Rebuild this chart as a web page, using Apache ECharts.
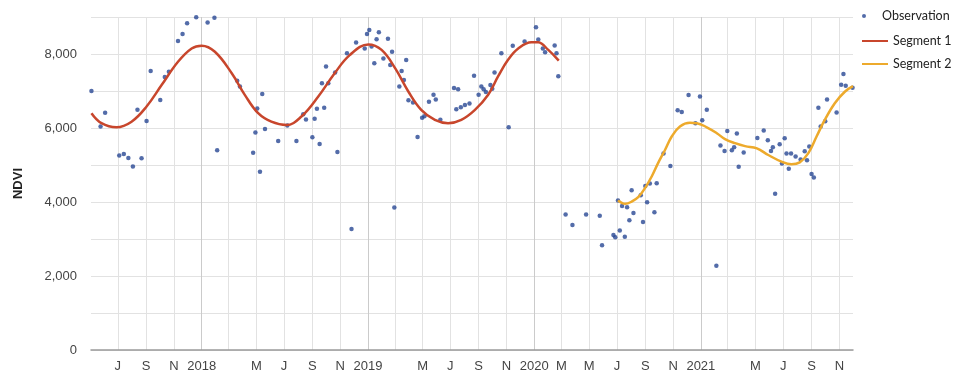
<!DOCTYPE html>
<html>
<head>
<meta charset="utf-8">
<script src="https://cdn.jsdelivr.net/npm/echarts@6/dist/echarts.min.js"></script>
<style>
  html, body { margin: 0; padding: 0; background: #fff; }
  #chart { width: 960px; height: 376px; }
</style>
</head>
<body>
<div id="chart"></div>
<script>
// NDVI observations
const obsDates = [
  '2017-05-04','2017-05-24','2017-06-03','2017-07-04','2017-07-14','2017-07-24','2017-08-03','2017-08-13','2017-08-22','2017-09-02',
  '2017-09-11','2017-10-02','2017-10-12','2017-10-21','2017-11-10','2017-11-20','2017-11-30','2017-12-20','2018-01-14','2018-01-29',
  '2018-02-04','2018-03-20','2018-03-26','2018-04-24','2018-04-29','2018-05-03','2018-05-09','2018-05-14','2018-05-20','2018-06-18',
  '2018-07-08','2018-07-28','2018-08-12','2018-08-18','2018-09-01','2018-09-06','2018-09-11','2018-09-17','2018-09-22','2018-09-27',
  '2018-10-01','2018-10-06','2018-10-21','2018-10-26','2018-11-16','2018-11-26','2018-12-06','2018-12-25','2018-12-30','2019-01-04',
  '2019-01-09','2019-01-15','2019-01-20','2019-01-25','2019-02-04','2019-02-14','2019-02-19','2019-02-23','2019-02-28','2019-03-11',
  '2019-03-16','2019-03-21','2019-03-26','2019-03-31','2019-04-10','2019-04-20','2019-04-30','2019-05-05','2019-05-15','2019-05-25',
  '2019-05-30','2019-06-09','2019-07-09','2019-07-14','2019-07-18','2019-07-24','2019-08-02','2019-08-12','2019-08-22','2019-09-01',
  '2019-09-07','2019-09-12','2019-09-17','2019-09-27','2019-10-01','2019-10-06','2019-10-21','2019-11-06','2019-11-15','2019-12-11',
  '2020-01-05','2020-01-10','2020-01-20','2020-01-25','2020-02-15','2020-02-19','2020-02-23','2020-03-10','2020-03-25','2020-04-24',
  '2020-05-24','2020-05-29','2020-06-23','2020-06-27','2020-07-03','2020-07-07','2020-07-12','2020-07-18','2020-07-23','2020-07-28',
  '2020-08-02','2020-08-06','2020-08-22','2020-08-27','2020-09-01','2020-09-05','2020-09-11','2020-09-21','2020-09-26','2020-10-11',
  '2020-10-26','2020-11-11','2020-11-20','2020-12-05','2020-12-20','2020-12-30','2021-01-04','2021-01-14','2021-02-04','2021-02-13',
  '2021-02-22','2021-02-28','2021-03-10','2021-03-15','2021-03-21','2021-03-25','2021-04-05','2021-05-05','2021-05-19','2021-05-28',
  '2021-06-04','2021-06-08','2021-06-13','2021-06-23','2021-06-28','2021-07-04','2021-07-08','2021-07-13','2021-07-18','2021-07-28',
  '2021-08-08','2021-08-17','2021-08-22','2021-08-27','2021-09-01','2021-09-06','2021-09-16','2021-09-21','2021-10-01','2021-10-05',
  '2021-10-26','2021-11-05','2021-11-10','2021-11-15','2021-11-30'
];
const obsValues = [
  7000,6040,6410,5260,5300,5190,4960,6490,5180,6190,
  7540,6760,7380,7520,8350,8540,8830,8990,8850,8980,
  5400,7280,7120,5330,5880,6530,4820,6920,5970,5650,
  6070,5650,6370,6230,5750,6250,6520,5570,7210,6550,
  7660,7210,7500,5350,8020,3270,8310,8150,8540,8650,
  8200,7750,8400,8590,7880,8410,7700,8060,3850,7120,
  7540,7300,7840,6750,6690,5760,6280,6320,6710,6900,
  6770,6220,7080,6510,7050,6560,6620,6660,7410,6900,
  7120,7050,6970,7160,7060,7500,8020,6020,8220,8340,
  8720,8390,8150,8050,8230,8020,7400,3660,3380,3660,
  3630,2830,3110,3050,4040,3230,3890,3060,3860,3510,
  4320,3700,4180,3460,4430,3990,4500,3720,4510,5310,
  4970,6480,6430,6890,6130,6850,6210,6490,2280,5530,
  5380,5920,5400,5480,5850,4950,5340,5730,5930,5670,
  5380,5480,4220,5560,5040,5720,5310,4900,5310,5230,
  5150,5370,5130,5500,4760,4660,6550,6040,6180,6770,
  6420,7170,7460,7140,7090
];

// Fitted curve, first segment
const seg1Dates = [
  '2017-05-04','2017-05-26','2017-06-28','2017-07-31','2017-09-02','2017-10-05','2017-11-10','2017-12-10','2018-01-01','2018-01-30',
  '2018-03-08','2018-04-06','2018-05-05','2018-06-03','2018-07-06','2018-08-08','2018-09-14','2018-10-20','2018-11-22','2019-01-02',
  '2019-01-31','2019-03-02','2019-03-31','2019-04-28','2019-05-28','2019-06-26','2019-07-25','2019-08-24','2019-09-22','2019-10-14',
  '2019-11-05','2019-11-27','2019-12-26','2020-01-10','2020-02-01','2020-02-24'
];
const seg1Values = [
  6400,6130,6020,6170,6580,7160,7790,8150,8225,8060,
  7480,6890,6400,6170,6080,6310,6850,7480,7970,8260,
  8110,7610,6980,6490,6220,6130,6220,6490,6900,7400,
  7850,8150,8320,8315,8110,7820
];

// Fitted curve, second segment
const seg2Dates = [
  '2020-07-03','2020-07-19','2020-08-02','2020-08-17','2020-08-31','2020-09-15','2020-09-29','2020-10-14','2020-10-29','2020-11-16',
  '2020-12-08','2020-12-23','2021-01-14','2021-02-05','2021-02-23','2021-03-17','2021-04-08','2021-05-04','2021-05-29','2021-06-27',
  '2021-07-19','2021-08-06','2021-08-25','2021-09-12','2021-09-30','2021-10-22','2021-11-13','2021-12-01'
];
const seg2Values = [
  4040,3950,4010,4140,4370,4690,5050,5400,5770,6040,
  6140,6130,6020,5860,5700,5590,5510,5450,5270,5090,
  5020,5070,5320,5770,6220,6670,6980,7130
];

// Time axis ticks (every two months) and their labels; blank = unlabelled line
const tickDates = [
  '2017-07-01','2017-09-01','2017-11-01','2018-01-01','2018-03-01','2018-05-01','2018-07-01','2018-09-01','2018-11-01',
  '2019-01-01','2019-03-01','2019-05-01','2019-07-01','2019-09-01','2019-11-01','2020-01-01','2020-03-01','2020-05-01',
  '2020-07-01','2020-09-01','2020-11-01','2021-01-01','2021-03-01','2021-05-01','2021-07-01','2021-09-01','2021-11-01'
];
const tickLabels = [
  'J','S','N','2018','','M','J','S','N',
  '2019','','M','J','S','N','2020','M','M',
  'J','S','N','2021','','M','J','S','N'
];
const yTicks = [0, 2000, 4000, 6000, 8000];

// dates become day numbers (UTC) so a plain value axis can place them
const DAY = 86400000;
const toDay = (s) => Math.round(Date.parse(s + 'T00:00:00Z') / DAY);
const zip = (ds, vs) => ds.map((d, i) => [toDay(d), vs[i]]);

const tickValues = tickDates.map(toDay);
const labelByValue = {};
tickValues.forEach((v, i) => { labelByValue[v] = tickLabels[i]; });
const labelValues = tickValues.filter((v, i) => tickLabels[i] !== '');

// year lines are a little darker than the two-month lines
const vLineColors = tickDates.map(d => d.slice(5) === '01-01' ? '#cbcbcb' : '#e2e2e2');

const FONT = 'Liberation Sans';

const chart = echarts.init(document.getElementById('chart'), null, { renderer: 'canvas' });
chart.setOption({
  animation: false,
  backgroundColor: '#ffffff',
  grid: { left: 91, right: 107, top: 17, bottom: 26, containLabel: false },
  legend: [
    {
      orient: 'vertical', left: 862, top: 8, padding: 0,
      itemWidth: 26, itemHeight: 4, itemGap: 7,
      textStyle: { fontFamily: 'Lato', fontSize: 12.5, color: '#222', lineHeight: 16 },
      data: [{ name: 'Observation', icon: 'circle' }]
    },
    {
      orient: 'vertical', left: 862, top: 33, padding: 0,
      itemWidth: 26, itemHeight: 2, itemGap: 7,
      textStyle: { fontFamily: 'Lato', fontSize: 12.5, color: '#222', lineHeight: 16 },
      data: [{ name: 'Segment 1', icon: 'rect' }, { name: 'Segment 2', icon: 'rect' }]
    }
  ],
  xAxis: {
    type: 'value',
    min: toDay('2017-05-03'),
    max: toDay('2021-12-01'),
    axisLine: { show: true, onZero: true, lineStyle: { color: '#9a9a9a', width: 1.5 } },
    axisTick: { show: false, customValues: tickValues },
    axisLabel: {
      customValues: labelValues,
      formatter: (v) => labelByValue[v] || '',
      margin: 10, fontFamily: FONT, fontSize: 13, color: '#444',
      hideOverlap: false, showMinLabel: true, showMaxLabel: true
    },
    splitLine: { show: true, lineStyle: { color: vLineColors, width: 1 } }
  },
  yAxis: {
    type: 'value',
    min: 0, max: 9000, interval: 1000,
    name: 'NDVI', nameLocation: 'middle', nameGap: 66,
    nameTextStyle: { fontFamily: FONT, fontSize: 13, fontWeight: 'bold', color: '#222' },
    axisLine: { show: false },
    axisTick: { show: false },
    axisLabel: {
      margin: 14, fontFamily: FONT, fontSize: 13, color: '#444',
      formatter: (v) => yTicks.indexOf(v) >= 0 ? v.toLocaleString('en-US') : ''
    },
    splitLine: { show: true, lineStyle: { color: '#e2e2e2', width: 1 } }
  },
  series: [
    {
      name: 'Observation', type: 'scatter',
      data: zip(obsDates, obsValues),
      symbol: 'circle', symbolSize: 4.5,
      itemStyle: { color: '#284793' }
    },
    {
      name: 'Segment 1', type: 'line',
      data: zip(seg1Dates, seg1Values),
      smooth: 0.4, showSymbol: false,
      lineStyle: { color: '#c8462c', width: 2.5 },
      itemStyle: { color: '#c8462c' }
    },
    {
      name: 'Segment 2', type: 'line',
      data: zip(seg2Dates, seg2Values),
      smooth: 0.4, showSymbol: false,
      lineStyle: { color: '#edaa2c', width: 2.5 },
      itemStyle: { color: '#edaa2c' }
    }
  ]
});
</script>
</body>
</html>
